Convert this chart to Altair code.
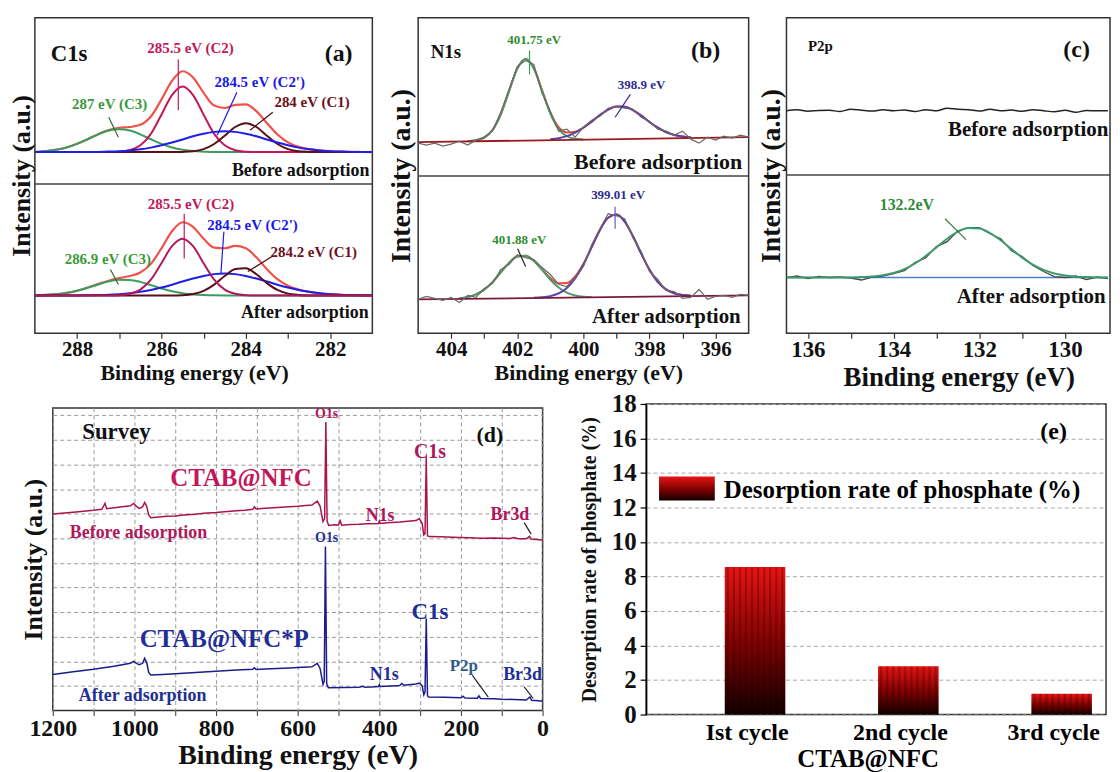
import altair as alt
import pandas as pd

FONT = "Liberation Serif"
TOP_H = 317

# ---------------- (a) C1s : heights above each spectrum's own baseline ----------------
C1S_EV = [289.0 - 0.25 * i for i in range(33)]
C1S_BEFORE_BASE = 182
C1S_AFTER_BASE = 38
C1S_BEFORE_ENV = [0, 1, 2.3, 4.6, 8.3, 13.0, 18.0, 22.1, 24.3, 25.2, 27.4, 35.7, 52.7, 71.5, 81.2, 75.0, 59.5,
                  46.7, 44.3, 47.4, 47.9, 41.1, 29.2, 17.7, 9.8, 5.3, 3.0, 1.7, 0.9, 0.5, 0.2, 0.1, 0]
C1S_BEFORE_C3 = [0, 1, 2.3, 4.6, 8.3, 12.9, 17.8, 21.6, 23, 21.6, 17.8, 12.9, 8.3, 4.6, 2.3, 1, 0.4,
                 0, 0, 0, 0, 0, 0, 0, 0, 0, 0, 0, 0, 0, 0, 0, 0]
C1S_BEFORE_C2 = [0, 0, 0, 0, 0, 0, 0, 0, 0.4, 1.9, 6.8, 18.3, 37.6, 57.3, 66, 57.3, 37.6, 18.3, 6.8, 1.9, 0.4,
                 0, 0, 0, 0, 0, 0, 0, 0, 0, 0, 0, 0]
C1S_BEFORE_C2P = [0, 0, 0, 0, 0, 0.1, 0.2, 0.5, 0.9, 1.7, 2.8, 4.5, 6.8, 9.6, 12.7, 15.9, 18.5, 20.3, 21, 20.3,
                  18.5, 15.9, 12.7, 9.6, 6.8, 4.5, 2.8, 1.7, 0.9, 0.5, 0.2, 0.1, 0]
C1S_BEFORE_C1 = [0, 0, 0, 0, 0, 0, 0, 0, 0, 0, 0, 0, 0, 0, 0.2, 0.8, 3, 8.1, 16.5, 25.2, 29, 25.2, 16.5, 8.1,
                 3, 0.8, 0.2, 0, 0, 0, 0, 0, 0]
C1S_AFTER_ENV = [0.2, 0.5, 1.2, 2.5, 4.7, 7.9, 11.4, 14.8, 17.4, 19.5, 23.1, 31.7, 47.3, 64.5, 73.5, 68.9, 56.9,
                 48.1, 47.4, 49.7, 47.3, 38.3, 26.4, 16.3, 9.7, 6.0, 3.6, 2.2, 1.3, 0.7, 0.4, 0.2, 0.1]
C1S_AFTER_C3 = [0.2, 0.5, 1.2, 2.5, 4.7, 7.7, 11.0, 14.1, 15.8, 15.6, 13.6, 10.4, 7.0, 4.2, 2.2, 1.0, 0.4, 0.1,
                0, 0, 0, 0, 0, 0, 0, 0, 0, 0, 0, 0, 0, 0, 0]
C1S_AFTER_C2 = [0, 0, 0, 0, 0, 0, 0, 0, 0.3, 1.7, 5.9, 15.8, 32.4, 49.5, 57, 49.5, 32.4, 15.8, 5.9, 1.7, 0.3,
                0, 0, 0, 0, 0, 0, 0, 0, 0, 0, 0, 0]
C1S_AFTER_C2P = [0, 0, 0, 0, 0, 0.2, 0.4, 0.7, 1.3, 2.2, 3.6, 5.5, 7.9, 10.8, 14.0, 17.0, 19.6, 21.4, 22, 21.4,
                 19.6, 17.0, 14.0, 10.8, 7.9, 5.5, 3.6, 2.2, 1.3, 0.7, 0.4, 0.2, 0.1]
C1S_AFTER_C1 = [0, 0, 0, 0, 0, 0, 0, 0, 0, 0, 0, 0, 0, 0, 0.3, 1.4, 4.5, 10.8, 19.5, 26.6, 27.4, 21.3, 12.4, 5.5,
                1.8, 0.5, 0, 0, 0, 0, 0, 0, 0]

# ---------------- (b) N1s ----------------
N1S_EV = [405.0 - 0.25 * i for i in range(41)]
N1S_BEFORE_RAW = [191, 189, 191, 188, 190, 193, 189, 194, 197, 203, 222, 245, 268, 274, 270, 241, 223, 203, 205,
                  197, 207, 214, 218, 226, 228, 226, 225, 217, 213, 205, 203, 199, 203, 195, 191, 197, 194, 198,
                  196, 199, 197]
N1S_BEFORE_ENV_START = 403.5
N1S_BEFORE_ENV = [193.0, 193.8, 196.6, 204.2, 220.0, 243.2, 265.8, 275.6, 266.2, 244.0, 221.5, 207.0, 201.7,
                  202.4, 206.6, 212.6, 219.2, 224.7, 227.7, 227.5, 224.1, 218.6, 212.2, 206.5, 202.1, 199.2,
                  197.6, 196.8]
N1S_BEFORE_G_START = 403.5
N1S_BEFORE_G = [193.0, 193.8, 196.6, 204.2, 220.0, 243.2, 265.8, 275.6, 266.1, 243.7, 220.7, 205.2, 197.9,
                195.3, 194.7]
N1S_BEFORE_P_START = 401.0
N1S_BEFORE_P = [194.8, 195.9, 198.0, 201.5, 206.4, 212.6, 219.2, 224.7, 227.7, 227.5, 224.1, 218.6, 212.2,
                206.5, 202.1, 199.2, 197.6, 196.8]
N1S_BEFORE_BASE_EV = [405, 395]
N1S_BEFORE_BASE = [192, 197]
N1S_AFTER_RAW = [34, 37, 35, 33, 36, 31, 38, 36, 45, 50, 64, 69, 79, 76, 74, 66, 59, 49, 47, 56, 67, 89, 105,
                 120, 118, 115, 96, 82, 62, 54, 43, 42, 35, 36, 44, 34, 37, 38, 36, 39, 38]
N1S_AFTER_ENV_START = 403.75
N1S_AFTER_ENV = [35.1, 36.3, 39.0, 43.8, 51.4, 61.1, 70.7, 77.1, 77.8, 72.8, 64.2, 55.5, 50.3, 50.5, 57.2, 69.6,
                 86.7, 103.8, 116.0, 119.2, 112.2, 97.4, 80.0, 63.8, 51.6, 44.1, 40.2, 38.4, 37.7]
N1S_AFTER_G_START = 403.75
N1S_AFTER_G = [35.1, 36.3, 39.0, 43.8, 51.4, 61.1, 70.7, 77.1, 77.8, 72.6, 63.6, 53.8, 46.0, 40.8, 38.0, 36.7,
               36.3]
N1S_AFTER_P_START = 401.5
N1S_AFTER_P = [35.6, 36.1, 37.3, 40.0, 45.5, 55.1, 68.9, 86.5, 103.8, 116.0, 119.2, 112.2, 97.4, 80.0, 63.8,
               51.6, 44.1, 40.2, 38.4, 37.7]
N1S_AFTER_BASE_EV = [405, 395]
N1S_AFTER_BASE = [34, 38]

# ---------------- (c) P2p ----------------
P2P_EV = [136.5 - 0.25 * i for i in range(31)]
P2P_BEFORE_RAW = [223.5, 224.5, 223, 223.8, 224, 222.8, 225, 224, 223.2, 224.5, 223.5, 224.3, 222.7, 224.6, 223.5,
                  226.0, 225.0, 224.6, 223.2, 225.0, 223.4, 224.2, 223.0, 224.5, 223.5, 222.6, 224.0, 222.0,
                  223.8, 223.4, 223.6]
P2P_AFTER_RAW = [56, 57.5, 55, 57, 56, 56.5, 55.5, 53.5, 56.5, 57.5, 60, 63, 71, 76, 87, 92, 103, 106, 106, 100,
                 95, 83, 77, 68, 62, 57, 56, 57.5, 54, 56.5, 55]
P2P_AFTER_FIT = [56, 56, 56, 56, 56, 56, 56, 56.5, 57.1, 58.4, 60.6, 64.5, 70.1, 77.7, 86.3, 95.0, 102.0, 105.7,
                 105.2, 100.7, 93.4, 84.5, 76.0, 68.9, 63.6, 60.1, 58.0, 56.9, 56.4, 56.1, 56.0]
P2P_AFTER_BASE_EV = [136.5, 129]
P2P_AFTER_BASE = [56, 56]

# ---------------- (d) Survey ----------------
SURVEY_BEFORE_EV = [1200, 1150, 1100, 1080, 1072, 1068, 1040, 1010, 1002, 995, 988, 980, 975, 970, 965, 960, 940,
                    920, 900, 880, 850, 830, 800, 780, 750, 730, 710, 706, 702, 680, 650, 620, 600, 580, 565, 552,
                    545, 538, 534, 531, 528, 524, 510, 500, 496, 492, 470, 450, 430, 402, 400, 398, 380, 350, 330,
                    310, 302, 295, 291, 288, 285, 282, 278, 250, 220, 200, 180, 150, 120, 80, 70, 60, 40, 32, 28,
                    15, 0]
SURVEY_BEFORE_I = [7.99, 8.06, 8.14, 8.18, 8.42, 8.20, 8.26, 8.32, 8.42, 8.30, 8.22, 8.28, 8.46, 8.30, 7.95, 7.84,
                   7.87, 7.90, 7.91, 7.95, 7.98, 8.02, 8.05, 8.08, 8.12, 8.14, 8.18, 8.28, 8.19, 8.22, 8.25, 8.28,
                   8.30, 8.33, 8.35, 8.51, 8.30, 7.68, 7.80, 11.73, 7.70, 7.52, 7.55, 7.54, 7.72, 7.53, 7.56, 7.57,
                   7.59, 7.60, 7.70, 7.60, 7.63, 7.66, 7.69, 7.72, 7.80, 7.60, 7.14, 7.20, 10.31, 7.10, 7.07, 7.06,
                   7.04, 7.03, 7.02, 7.00, 7.01, 6.99, 7.03, 6.98, 6.98, 7.08, 6.97, 6.95, 6.93]
SURVEY_AFTER_EV = [1200, 1150, 1100, 1050, 1010, 1002, 995, 988, 980, 975, 970, 965, 960, 930, 900, 870, 850, 820,
                   800, 770, 750, 710, 706, 702, 680, 650, 620, 600, 565, 552, 545, 538, 535, 532, 529, 525, 490,
                   450, 440, 436, 420, 402, 400, 398, 370, 350, 345, 340, 310, 302, 295, 291, 288, 285, 282, 279,
                   240, 200, 195, 190, 160, 156, 152, 120, 100, 70, 40, 31, 27, 10, 0]
SURVEY_AFTER_I = [1.47, 1.58, 1.68, 1.80, 1.92, 2.00, 1.92, 1.86, 1.92, 2.12, 1.95, 1.55, 1.45, 1.47, 1.50, 1.53,
                  1.55, 1.58, 1.60, 1.63, 1.65, 1.68, 1.74, 1.67, 1.69, 1.71, 1.73, 1.75, 1.78, 1.92, 1.70, 1.06,
                  1.20, 6.67, 1.10, 0.93, 0.94, 0.95, 0.99, 0.95, 0.96, 0.98, 1.05, 0.98, 1.00, 1.02, 1.10, 1.03,
                  1.08, 1.12, 1.00, 0.64, 0.75, 3.74, 0.60, 0.55, 0.54, 0.52, 0.58, 0.51, 0.50, 0.60, 0.49, 0.48,
                  0.46, 0.45, 0.43, 0.55, 0.42, 0.40, 0.38]

# ---------------- (e) Desorption ----------------
CYCLES = ["Ist cycle", "2nd cycle", "3rd cycle"]
CYCLE_POS = [1, 3, 5]
DESORPTION = [8.55, 2.8, 1.2]
BAR_WIDTH = 0.79

# ---------------- annotations ----------------
A_NOTES = [
    ("C1s", 288.19, 280, "#111111", 23), ("(a)", 281.80, 280, "#111111", 24),
    ("285.5 eV (C2)", 285.31, 287, "#C2185B", 15), ("284.5 eV (C2')", 283.67, 252, "#1A1AE6", 15),
    ("287 eV (C3)", 287.23, 230, "#3A9A3A", 15), ("284 eV (C1)", 282.43, 232, "#6B1020", 15),
    ("Before adsorption", 282.70, 163, "#111111", 18),
    ("285.5 eV (C2)", 285.30, 130, "#C2185B", 15), ("284.5 eV (C2')", 283.84, 109, "#1A1AE6", 15),
    ("286.9 eV (C3)", 287.27, 75, "#3A9A3A", 15), ("284.2 eV (C1)", 282.39, 82, "#6B1020", 15),
    ("After adsorption", 282.60, 20, "#111111", 18),
]
A_LEADERS = [
    (285.60, 275, 285.60, 224, "#C2185B"), (284.21, 242, 284.68, 199, "#1A1AE6"),
    (287.25, 217, 287.02, 197, "#2E6B2E"), (283.36, 222, 283.90, 204, "#4A0A10"),
    (285.46, 120, 285.46, 75, "#C2185B"), (284.52, 102, 284.59, 60, "#1A1AE6"),
    (287.21, 64, 287.02, 49, "#2E6B2E"), (283.38, 77, 283.95, 62, "#4A0A10"),
]
B_NOTES = [
    ("N1s", 404.16, 283, "#111111", 19), ("(b)", 396.30, 284, "#111111", 24),
    ("401.75 eV", 401.49, 295, "#2E8B2E", 13), ("398.9 eV", 398.24, 249, "#2B2B8F", 13),
    ("Before adsorption", 397.74, 172, "#111111", 22),
    ("399.01 eV", 398.95, 139, "#2B2B8F", 13), ("401.88 eV", 401.94, 94, "#2E8B2E", 13),
    ("After adsorption", 397.49, 16, "#111111", 21),
]
B_LEADERS = [
    (401.63, 284, 401.63, 260, "#3C9A5A"), (398.58, 240, 399.04, 217, "#2B2B8F"),
    (399.04, 127, 399.04, 105, "#6A5ACD"), (401.99, 85, 401.75, 67, "#222222"),
]
C_NOTES = [
    ("P2p", 135.71, 289, "#111111", 15), ("(c)", 129.73, 285, "#111111", 24),
    ("Before adsorption", 130.86, 204, "#111111", 21),
    ("132.2eV", 133.69, 129, "#2E8B3A", 16), ("After adsorption", 130.79, 36, "#111111", 21),
]
C_LEADERS = [(132.80, 115, 132.31, 94, "#3D7B4B")]
D_NOTES = [
    ("Survey", 1044, 11.3, "#111111", 23), ("(d)", 129, 11.2, "#111111", 22),
    ("O1s", 529, 12.06, "#B0175A", 14), ("C1s", 276, 10.49, "#B0175A", 20),
    ("CTAB@NFC", 739, 9.47, "#C2185B", 25), ("N1s", 398, 7.89, "#B0175A", 18),
    ("Br3d", 80, 7.94, "#B0175A", 18), ("Before adsorption", 990, 7.21, "#B0175A", 18),
    ("O1s", 529, 7.0, "#1F2F95", 14), ("C1s", 276, 4.0, "#1F2F95", 23),
    ("CTAB@NFC*P", 780, 2.92, "#1F2F95", 25), ("N1s", 388, 1.46, "#1F2F95", 18),
    ("P2p", 193, 1.82, "#2E5C8A", 17), ("Br3d", 49, 1.46, "#1F2F95", 18),
    ("After adsorption", 980, 0.61, "#1F2F95", 18),
]
D_LEADERS = [(45, 7.64, 28, 7.17, "#222222"), (172, 1.43, 133, 0.55, "#222222"), (45, 0.96, 23, 0.49, "#222222")]


def seq(start, vals, step=0.25):
    return [start - step * i for i in range(len(vals))]


def line_df(ev, vals, base=0):
    return pd.DataFrame({"ev": ev, "y": [base + v for v in vals]})


def notes_df(notes):
    return pd.DataFrame(notes, columns=["t", "ev", "y", "c", "s"])


def leaders_df(leaders):
    return pd.DataFrame(leaders, columns=["ev", "y", "ev2", "y2", "c"])


def top_panel(width, xdom, ticks, lab_size, title_size, title_x, ytitle_size, ytitle_pad, line_specs, notes,
              leaders, divider):
    X = alt.X("ev:Q", scale=alt.Scale(domain=xdom, nice=False, zero=False),
              axis=alt.Axis(values=ticks, format="d", labelExpr="datum.value % 2 == 0 ? datum.label : ''",
                            labelFont=FONT, labelFontSize=lab_size, labelFontWeight="bold", labelColor="#111",
                            labelPadding=0, labelFlush=False, tickSize=5, tickColor="#333", tickWidth=1.2,
                            domain=False, grid=False,
                            title="Binding energy (eV)", titleFont=FONT, titleFontSize=title_size,
                            titleFontWeight="bold", titleColor="#111", titlePadding=3, titleX=title_x,
                            titleAlign="center", titleAnchor="start"))
    Y = alt.Y("y:Q", scale=alt.Scale(domain=[0, TOP_H], nice=False, zero=False),
              axis=alt.Axis(labels=False, ticks=False, domain=False, grid=False, title="Intensity (a.u.)",
                            titleFont=FONT, titleFontSize=ytitle_size, titleFontWeight="bold", titleColor="#111",
                            titlePadding=ytitle_pad))
    layers = [alt.Chart(pd.DataFrame({"y": [divider]})).mark_rule(color="#444", strokeWidth=1.5).encode(y=Y)]
    for df, color, w, interp in line_specs:
        layers.append(alt.Chart(df).mark_line(color=color, strokeWidth=w, interpolate=interp, clip=True)
                      .encode(x=X, y=Y))
    layers.append(alt.Chart(leaders_df(leaders)).mark_rule(strokeWidth=1.2)
                  .encode(x=X, y=Y, x2="ev2:Q", y2="y2:Q", color=alt.Color("c:N", scale=None)))
    layers.append(alt.Chart(notes_df(notes)).mark_text(font=FONT, fontWeight="bold")
                  .encode(x=X, y=Y, text="t:N", color=alt.Color("c:N", scale=None),
                          size=alt.Size("s:Q", scale=None)))
    return alt.layer(*layers).properties(width=width, height=TOP_H)


# ---- panel a
a_lines = [
    (line_df(C1S_EV, C1S_BEFORE_ENV, C1S_BEFORE_BASE), "#F0524A", 2.2, "monotone"),
    (line_df(C1S_EV, C1S_BEFORE_C3, C1S_BEFORE_BASE), "#3E9B5E", 2, "monotone"),
    (line_df(C1S_EV, C1S_BEFORE_C2, C1S_BEFORE_BASE), "#C2185B", 2, "monotone"),
    (line_df(C1S_EV, C1S_BEFORE_C1, C1S_BEFORE_BASE), "#5A0F18", 2, "monotone"),
    (line_df(C1S_EV, C1S_BEFORE_C2P, C1S_BEFORE_BASE), "#1E1EE6", 2, "monotone"),
    (line_df(C1S_EV, C1S_AFTER_ENV, C1S_AFTER_BASE), "#F0524A", 2.2, "monotone"),
    (line_df(C1S_EV, C1S_AFTER_C3, C1S_AFTER_BASE), "#3E9B5E", 2, "monotone"),
    (line_df(C1S_EV, C1S_AFTER_C2P, C1S_AFTER_BASE), "#1E1EE6", 2, "monotone"),
    (line_df(C1S_EV, C1S_AFTER_C1, C1S_AFTER_BASE), "#5A0F18", 2, "monotone"),
    (line_df(C1S_EV, C1S_AFTER_C2, C1S_AFTER_BASE), "#B0185E", 2, "monotone"),
]
panel_a = top_panel(339, [289, 281], [288, 287, 286, 285, 284, 283, 282], 21, 22, 160, 26, 0,
                    a_lines, A_NOTES, A_LEADERS, 150)

# ---- panel b
b_lines = [
    (line_df(seq(N1S_BEFORE_ENV_START, N1S_BEFORE_ENV), N1S_BEFORE_ENV), "#E8473E", 2, "monotone"),
    (line_df(seq(N1S_BEFORE_G_START, N1S_BEFORE_G), N1S_BEFORE_G), "#4C9A6A", 2, "monotone"),
    (line_df(seq(N1S_BEFORE_P_START, N1S_BEFORE_P), N1S_BEFORE_P), "#5B3FA8", 2, "monotone"),
    (line_df(N1S_BEFORE_BASE_EV, N1S_BEFORE_BASE), "#9B1B1B", 1.8, "linear"),
    (line_df(N1S_EV, N1S_BEFORE_RAW), "#6a6a6a", 1.2, "linear"),
    (line_df(seq(N1S_AFTER_ENV_START, N1S_AFTER_ENV), N1S_AFTER_ENV), "#E8473E", 2, "monotone"),
    (line_df(seq(N1S_AFTER_G_START, N1S_AFTER_G), N1S_AFTER_G), "#4C9A6A", 2, "monotone"),
    (line_df(seq(N1S_AFTER_P_START, N1S_AFTER_P), N1S_AFTER_P), "#5B3FA8", 2, "monotone"),
    (line_df(N1S_AFTER_BASE_EV, N1S_AFTER_BASE), "#7A1A40", 1.8, "linear"),
    (line_df(N1S_EV, N1S_AFTER_RAW), "#6a6a6a", 1.2, "linear"),
]
panel_b = top_panel(332, [405, 395], [404, 403, 402, 401, 400, 399, 398, 397, 396], 21, 22, 171, 28, 3,
                    b_lines, B_NOTES, B_LEADERS, 158)

# ---- panel c
c_lines = [
    (line_df(P2P_EV, P2P_BEFORE_RAW), "#222222", 1.5, "monotone"),
    (line_df(P2P_AFTER_BASE_EV, P2P_AFTER_BASE), "#4A80D4", 1.6, "linear"),
    (line_df(P2P_EV, P2P_AFTER_RAW), "#444444", 1.3, "linear"),
    (line_df(P2P_EV, P2P_AFTER_FIT), "#3D9B6B", 2, "monotone"),
]
panel_c = top_panel(325, [136.5, 128.95], [136, 135, 134, 133, 132, 131, 130], 23, 27, 173, 28, 1,
                    c_lines, C_NOTES, C_LEADERS, 159)

# ---- panel d
XD = alt.X("ev:Q", scale=alt.Scale(domain=[1200, 0], nice=False, zero=False),
           axis=alt.Axis(values=list(range(0, 1201, 100)), format="d",
                         labelExpr="datum.value % 200 == 0 ? datum.label : ''",
                         labelFont=FONT, labelFontSize=24, labelFontWeight="bold", labelColor="#111",
                         labelPadding=1, labelFlush=False, tickSize=5, tickColor="#333", domain=False,
                         grid=True, gridDash=[4, 3], gridColor="#9a9a9a", gridWidth=1,
                         title="Binding energy (eV)", titleFont=FONT, titleFontSize=28, titleFontWeight="bold",
                         titleColor="#111", titlePadding=1))
YD = alt.Y("y:Q", scale=alt.Scale(domain=[0, 12.3], nice=False, zero=False),
           axis=alt.Axis(values=list(range(1, 13)), labels=False, ticks=False, domain=False,
                         grid=True, gridDash=[4, 3], gridColor="#9a9a9a", gridWidth=1,
                         title="Intensity (a.u.)", titleFont=FONT, titleFontSize=26, titleFontWeight="bold",
                         titleColor="#111", titlePadding=6))
panel_d = alt.layer(
    alt.Chart(pd.DataFrame({"ev": SURVEY_BEFORE_EV, "y": SURVEY_BEFORE_I}))
    .mark_line(color="#A8144E", strokeWidth=1.5, clip=True).encode(x=XD, y=YD),
    alt.Chart(pd.DataFrame({"ev": SURVEY_AFTER_EV, "y": SURVEY_AFTER_I}))
    .mark_line(color="#1C1C8C", strokeWidth=1.5, clip=True).encode(x=XD, y=YD),
    alt.Chart(leaders_df(D_LEADERS)).mark_rule(strokeWidth=1.2)
    .encode(x=XD, y=YD, x2="ev2:Q", y2="y2:Q", color=alt.Color("c:N", scale=None)),
    alt.Chart(notes_df(D_NOTES)).mark_text(font=FONT, fontWeight="bold")
    .encode(x=XD, y=YD, text="t:N", color=alt.Color("c:N", scale=None), size=alt.Size("s:Q", scale=None)),
).properties(width=492, height=304)

# ---- panel e
E_W, E_H = 462, 312
XE = alt.X("pos:Q", scale=alt.Scale(domain=[-0.026, 5.974], nice=False, zero=False),
           axis=alt.Axis(values=[1, 2, 3, 4, 5], labels=False, tickSize=6, tickColor="#000", tickWidth=1.2,
                         domainColor="#000", domainWidth=1.5, grid=True, gridDash=[4, 3], gridColor="#a8a8a8",
                         title=None))
YE = alt.Y("val:Q", scale=alt.Scale(domain=[0, 18], nice=False, zero=False),
           axis=alt.Axis(values=list(range(0, 19, 2)), format="d", labelFont=FONT, labelFontSize=25,
                         labelFontWeight="bold", labelColor="#111", labelPadding=4, tickSize=6, tickColor="#000",
                         tickWidth=1.2, domainColor="#000", domainWidth=1.5, grid=True, gridDash=[4, 3],
                         gridColor="#a8a8a8", title="Desorption rate of phosphate (%)", titleFont=FONT,
                         titleFontSize=20, titleFontWeight="bold", titleColor="#111", titlePadding=12))
RED_GRAD = alt.Gradient(gradient="linear",
                        stops=[alt.GradientStop(color="#120000", offset=0),
                               alt.GradientStop(color="#7a0000", offset=0.45),
                               alt.GradientStop(color="#e81414", offset=1)],
                        x1=0, x2=0, y1=1, y2=0)
bars_df = pd.DataFrame({"pos": CYCLE_POS, "pos_end": [p + BAR_WIDTH for p in CYCLE_POS], "val": DESORPTION,
                        "t": CYCLES, "mid": [p + BAR_WIDTH / 2 for p in CYCLE_POS]})
stripe_rows = []
for p, v in zip(CYCLE_POS, DESORPTION):
    for k in range(10):
        stripe_rows.append({"pos": p + 0.04 + 0.079 * k, "val": v})
stripes_df = pd.DataFrame(stripe_rows)
panel_e = alt.layer(
    alt.Chart(bars_df).mark_bar(color=RED_GRAD).encode(x=XE, x2="pos_end:Q", y=YE, y2=alt.datum(0)),
    alt.Chart(stripes_df).mark_rule(color="#000000", strokeWidth=2.2, opacity=0.22)
    .encode(x=XE, y=YE, y2=alt.datum(0)),
    alt.Chart(bars_df).mark_text(font=FONT, fontWeight="bold", fontSize=24, dx=-8)
    .encode(x=alt.X("mid:Q", scale=alt.Scale(domain=[-0.026, 5.974], nice=False, zero=False), axis=None),
            y=alt.value(E_H + 19), text="t:N"),
    alt.Chart(pd.DataFrame({"t": ["CTAB@NFC"]})).mark_text(font=FONT, fontWeight="bold", fontSize=25)
    .encode(x=alt.value(223), y=alt.value(E_H + 45), text="t:N"),
    alt.Chart(pd.DataFrame({"t": ["(e)"], "pos": [5.29], "val": [16.35]}))
    .mark_text(font=FONT, fontWeight="bold", fontSize=24).encode(x=XE, y=YE, text="t:N"),
    alt.Chart(pd.DataFrame({"t": ["legend"]})).mark_rect(color=RED_GRAD)
    .encode(x=alt.value(13), x2=alt.value(69), y=alt.value(73), y2=alt.value(97)),
    alt.Chart(pd.DataFrame({"t": ["Desorption rate of phosphate (%)"]}))
    .mark_text(font=FONT, fontWeight="bold", fontSize=25, align="left")
    .encode(x=alt.value(78), y=alt.value(86), text="t:N"),
).properties(width=E_W, height=E_H)


def spacer(w):
    return alt.Chart(pd.DataFrame({"v": [0]})).mark_rule(strokeOpacity=0).encode(
        x=alt.value(0), x2=alt.value(w), y=alt.value(0)).properties(
        width=w, height=1, view=alt.ViewBackground(stroke="transparent"))


top_row = alt.hconcat(spacer(25), panel_a, spacer(44), panel_b, spacer(36), panel_c,
                      spacing=1, bounds="flush")
bottom_row = alt.hconcat(spacer(43), panel_d, spacer(102), panel_e,
                         spacing=1, bounds="flush", center=True)

chart = alt.vconcat(top_row, bottom_row, spacing=0).properties(
    padding={"left": 0, "top": 7, "right": 0, "bottom": 0}
).configure(font=FONT).configure_view(stroke="#333333", strokeWidth=1.5)

chart.save("out.html", embed_options={"renderer": "svg", "actions": False})
